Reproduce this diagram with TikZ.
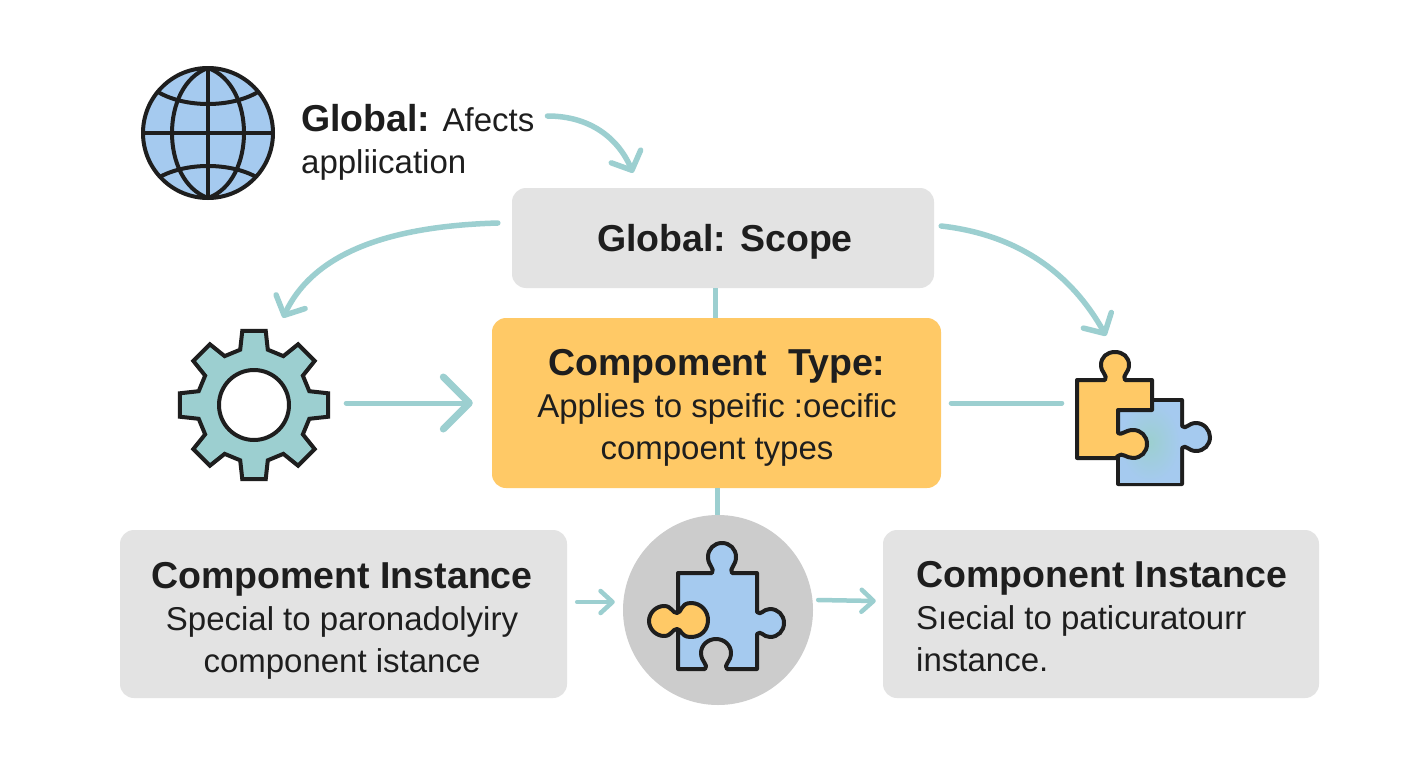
\documentclass[tikz,border=0pt]{standalone}
\usepackage{fontspec}
\setmainfont{Liberation Sans}
\usetikzlibrary{arrows.meta,calc}
\definecolor{teal}{HTML}{9CCFD0}
\definecolor{ink}{HTML}{1E1E1E}
\definecolor{boxgray}{HTML}{E3E3E3}
\definecolor{amber}{HTML}{FFC966}
\definecolor{sky}{HTML}{A5CAEF}
\definecolor{disc}{HTML}{CCCCCC}
\newcommand{\bigt}{\fontsize{37.5}{42}\selectfont\bfseries}
\tikzset{
  x=1pt,y=-1pt,
  card/.style={rounded corners=14pt,fill=boxgray,inner sep=0pt,align=center,text=ink},
  label/.style={text=ink,inner sep=0pt,font=\fontsize{33}{42}\selectfont},
  link/.style={draw=teal,line width=5pt,line cap=round,line join=round},
  arrowed/.style={link,line width=5.5pt,-{Straight Barb[length=15pt,width=32pt,line width=5.5pt,round]}},
  bigarrow/.style={link,-{Straight Barb[length=26pt,width=52pt,line width=7pt,round]}},
  smallarrow/.style={link,line width=4.5pt,-{Straight Barb[length=12pt,width=22pt,line width=4.5pt,round]}},
  icon/.style={draw=ink,line width=4pt,line join=round},
}
\begin{document}
\begin{tikzpicture}
\useasboundingbox (0,0) rectangle (1408,768);
\fill[white] (0,0) rectangle (1408,768);
% boxes
\node[card,font=\bigt,minimum width=422pt,minimum height=100pt] (scope) at (723,238) {};
\node[text=ink,font=\bigt,inner sep=0pt] (scopetext) at (725,242) {Global: Scope};
\node[card,fill=amber,minimum width=449pt,minimum height=170pt] (ctype) at (716.5,403) {};
\node[label,align=center] (ctypetext) at (717,407.5) {{\bigt Compoment\ \ Type:}\\Applies to speific :oecific\\compoent types};
\node[card,minimum width=447pt,minimum height=168pt] (instl) at (343.5,614) {};
\node[label,align=center] (instltext) at (342,621) {{\bigt Compoment Instance}\\Special to paronadolyiry\\component istance};
\node[card,minimum width=436pt,minimum height=168pt] (instr) at (1101,614) {};
\node[label,align=left,anchor=west] (instrtext) at (916,617) {{\bigt Component Instance}\\Sıecial to paticuratourr\\instance.};
% globe
\node[circle,minimum size=130pt,inner sep=0pt,fill=sky] (globe) at (208,133) {};
\begin{scope}[icon]
\clip (208,133) circle (65);
\draw (143,133) -- (273,133);
\draw (208,68) -- (208,198);
\draw (208,68) .. controls (160,85) and (160,181) .. (208,198);
\draw (208,68) .. controls (256,85) and (256,181) .. (208,198);
\draw (158,92) .. controls (185,108) and (231,108) .. (258,92);
\draw (158,178) .. controls (185,162) and (231,162) .. (258,178);
\end{scope}
\draw[icon] (208,133) circle (65);
\node[label,anchor=west,align=left] (globaltext) at (301,142) {{\bigt Global:} Afects\\appliication};
% gear
\node[circle,minimum size=150pt,inner sep=0pt] (gearicon) at (254,405) {};
\draw[icon,line join=miter,fill=teal,shift={(254,405)}] (-14:57)
  \foreach \a in {0,45,...,315}{ -- ({\a-14}:57) -- ({\a-9}:75) -- ({\a+9}:75) -- ({\a+14}:57) } -- cycle;
\node[circle,draw=ink,line width=4pt,fill=white,minimum size=70pt,inner sep=0pt] (gearhole) at (254,405) {};
% right puzzle
\node[minimum width=134pt,minimum height=134pt,inner sep=0pt] (puzzler) at (1143,418) {};
\draw[icon,fill=sky] (1118,400) -- (1182,400) -- (1182,426)
  .. controls (1186,430) and (1188,423) .. (1196,423)
  .. controls (1204,423) and (1210,430) .. (1210,437)
  .. controls (1210,445) and (1204,451) .. (1196,451)
  .. controls (1188,451) and (1186,444) .. (1182,448)
  -- (1182,484) -- (1118,484) -- cycle;
\shade[inner color=teal,outer color=sky] (1120,402) rectangle (1180,482);
\draw[icon,fill=amber] (1077,380) -- (1105,380)
  .. controls (1108,375) and (1101,373) .. (1101,365)
  .. controls (1101,357) and (1107,352) .. (1115,352)
  .. controls (1123,352) and (1129,357) .. (1129,365)
  .. controls (1129,373) and (1122,375) .. (1125,380)
  -- (1152,380) -- (1152,410) -- (1118,410) -- (1118,433)
  .. controls (1121,436) and (1125,430) .. (1133,430)
  .. controls (1141,430) and (1147,436) .. (1147,444)
  .. controls (1147,452) and (1141,458) .. (1133,458)
  .. controls (1126,458) and (1122,452) .. (1118,456)
  -- (1116,458) -- (1077,458) -- cycle;
% centre disc
\node[circle,fill=disc,minimum size=190pt,inner sep=0pt] (disc) at (718,610) {};
\draw[icon,fill=sky] (678,573) -- (712,573)
  .. controls (715,568) and (708,566) .. (708,557)
  .. controls (708,549) and (714,543) .. (722,543)
  .. controls (730,543) and (736,549) .. (736,557)
  .. controls (736,566) and (729,568) .. (732,573)
  -- (757,573) -- (757,612)
  .. controls (761,616) and (763,609) .. (770,609)
  .. controls (778,609) and (784,615) .. (784,623)
  .. controls (784,631) and (778,637) .. (770,637)
  .. controls (763,637) and (761,630) .. (757,634)
  -- (757,669) -- (727,669)
  .. controls (723,665) and (731,662) .. (731,653)
  .. controls (731,645) and (724,639) .. (716,639)
  .. controls (708,639) and (701,645) .. (701,653)
  .. controls (701,662) and (709,665) .. (705,669)
  -- (678,669) -- cycle;
\draw[icon,fill=amber] (677,613)
  .. controls (682,613) and (680,603) .. (691,603)
  .. controls (701,603) and (708,611) .. (708,620)
  .. controls (708,630) and (701,637) .. (691,637)
  .. controls (680,637) and (682,629) .. (677,629)
  .. controls (672,629) and (672,636) .. (664,636)
  .. controls (656,636) and (649,629) .. (649,621)
  .. controls (649,613) and (656,606) .. (664,606)
  .. controls (672,606) and (672,613) .. (677,613) -- cycle;
% connectors
\draw[arrowed] ([shift={(13,-26)}]globaltext.east)
  .. controls (590,116) and (618,138) .. ([shift={(-90,-15)}]scope.north);
\draw[arrowed] ([shift={(-14,-15)}]scope.west)
  .. controls (395,226) and (315,250) .. ([shift={(29,-12)}]gearicon.north);
\draw[arrowed] ([shift={(7,-12)}]scope.east)
  .. controls (1020,235) and (1072,275) .. ([shift={(-37,-15)}]puzzler.north);
\draw[bigarrow] ([shift={(17,-2)}]gearicon.east) -- ([xshift=-19pt]ctype.west);
\draw[link] ([xshift=10pt]ctype.east) -- ([xshift=-14pt]puzzler.west |- ctype.east);
\draw[link,line cap=butt] (scope.south -| 715,0) -- (ctype.north -| 715,0);
\draw[link,line cap=butt] (ctype.south -| 717,0) -- (disc.north -| 717,0);
\draw[smallarrow] ([shift={(10,-12)}]instl.east) -- ([shift={(-8,-8)}]disc.west);
\draw[smallarrow] ([shift={(5,-10)}]disc.east) -- ([shift={(-7,-13)}]instr.west);
\end{tikzpicture}
\end{document}
